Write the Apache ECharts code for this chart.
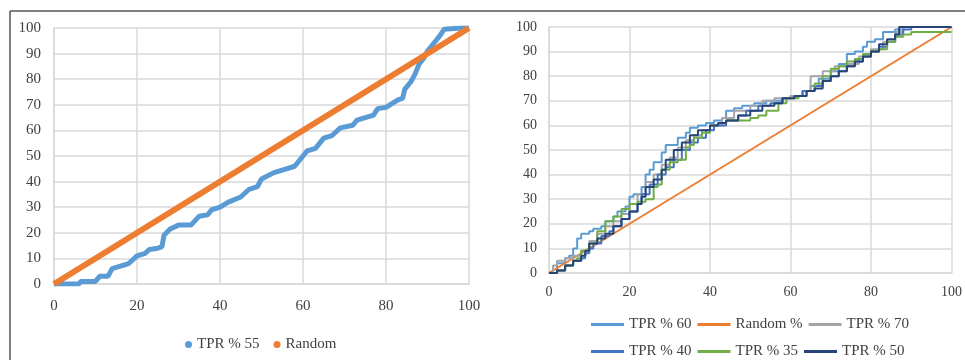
<!DOCTYPE html>
<html>
<head>
<meta charset="utf-8">
<script src="https://cdn.jsdelivr.net/npm/echarts@6/dist/echarts.min.js"></script>
<style>
html, body { margin: 0; padding: 0; background: #fff; }
#chart { width: 965px; height: 360px; }
</style>
</head>
<body>
<div id="chart"></div>
<script>
// axis ticks
var tickMin = 0;
var tickMax = 100;
var tickStep = 20;
var yStep = 10;

// left panel: TPR % 55 vs Random  ([x, y] pairs, percent)
var tpr55 = [
    [0, 0], [6, 0], [6.5, 1], [10, 1], [11, 3], [13, 3], [14, 6], [16, 7], [18, 8],
    [20, 11], [22, 12], [23, 13.5], [25, 14], [26, 14.5], [26.5, 19], [28, 21.5],
    [30, 23], [33, 23], [35, 26.5], [37, 27], [38, 29], [40, 30], [42, 32], [45, 34],
    [47, 37], [49, 38], [50, 41], [53, 43.5], [55, 44.5], [58, 46], [60, 50], [61, 52],
    [63, 53], [65, 57], [67, 58], [69, 61], [72, 62], [73, 64], [75, 65], [77, 66],
    [78, 68.5], [80, 69], [82, 71], [83, 72], [84, 72.5], [84.5, 76], [86, 79],
    [87, 82], [88, 86], [89, 88], [90, 91], [92, 95], [93, 97], [94, 99.5], [98, 100], [100, 100]
];
var random55 = [[0, 0], [100, 100]];

// right panel
var tpr60 = [
    [0, 0], [2, 4], [4, 6], [5, 7], [6, 10], [7, 14], [8, 16], [10, 17], [11, 18], [13, 19],
    [14, 21], [16, 23], [17, 25], [19, 27], [20, 31], [21, 32], [23, 35], [24, 40], [25, 42],
    [26, 45], [28, 49], [29, 52], [31, 52], [32, 55], [34, 57], [35, 59], [37, 60], [39, 61],
    [41, 62], [43, 63], [44, 66], [46, 67], [48, 68], [51, 69], [54, 70], [58, 71], [60, 72],
    [63, 74], [65, 76], [67, 79], [70, 82], [72, 85], [74, 89], [76, 90], [78, 92], [79, 94],
    [81, 95], [83, 98], [86, 99], [88, 100], [100, 100]
];
var randomPct = [[0, 0], [100, 100]];
var tpr70 = [
    [0, 0], [1, 3], [2, 5], [4, 6], [6, 7], [8, 9], [10, 13], [12, 16], [14, 19], [16, 21],
    [18, 24], [20, 28], [22, 32], [24, 37], [26, 40], [28, 44], [30, 47], [32, 51], [34, 54],
    [36, 56], [38, 58], [40, 60], [43, 63], [46, 66], [50, 68], [53, 70], [56, 71], [60, 72],
    [63, 74], [65, 80], [68, 82], [71, 84], [74, 85], [77, 88], [80, 91], [83, 94], [86, 98],
    [88, 100], [100, 100]
];
var tpr40 = [
    [0, 0], [2, 1], [4, 3], [6, 5], [8, 6], [9, 8], [10, 10], [11, 12], [13, 15], [15, 17],
    [16, 19], [18, 22], [20, 25], [22, 28], [23, 32], [25, 36], [27, 40], [29, 43], [31, 46],
    [33, 50], [35, 53], [37, 55], [39, 58], [41, 60], [44, 62], [47, 64], [49, 66], [52, 68],
    [55, 69], [58, 71], [61, 72], [63, 74], [66, 76], [68, 78], [70, 80], [72, 82], [74, 84],
    [76, 86], [78, 88], [80, 90], [82, 92], [84, 94], [86, 97], [88, 99], [90, 100], [100, 100]
];
var tpr35 = [
    [0, 0], [2, 1], [4, 3], [6, 5], [7, 6], [8, 9], [10, 12], [12, 17], [14, 21], [16, 23],
    [18, 26], [20, 28], [22, 29], [24, 30], [26, 35], [27, 36], [28, 42], [30, 45], [32, 46],
    [34, 51], [35, 52], [36, 55], [38, 57], [40, 60], [42, 61], [44, 62], [47, 62], [50, 63],
    [52, 64], [54, 66], [57, 69], [59, 71], [62, 72], [64, 74], [66, 77], [68, 80], [70, 83],
    [72, 84], [74, 86], [76, 87], [78, 89], [80, 90], [82, 91], [84, 94], [86, 96], [88, 97],
    [90, 98], [100, 98]
];
var tpr50 = [
    [0, 0], [2, 1], [4, 3], [6, 5], [8, 7], [9, 9], [10, 12], [12, 14], [14, 16], [16, 19],
    [18, 22], [20, 25], [22, 28], [23, 31], [24, 35], [26, 38], [28, 42], [29, 46], [31, 50],
    [33, 53], [35, 56], [37, 58], [40, 60], [42, 61], [44, 62], [47, 64], [50, 66], [53, 68],
    [56, 69], [58, 71], [61, 72], [64, 74], [66, 75], [68, 78], [70, 80], [72, 82], [74, 84],
    [76, 86], [78, 88], [80, 90], [82, 93], [84, 95], [86, 97], [87, 100], [100, 100]
];

var leftNames = ['TPR % 55', 'Random'];
var rightRow1 = ['TPR % 60', 'Random %', 'TPR % 70'];
var rightRow2 = ['TPR % 40', 'TPR % 35', 'TPR % 50'];

var fontFam = '"Liberation Serif", "Times New Roman", serif';
var txtColor = '#404040';
var gridColor = '#d9d9d9';

function xAxisOf(idx, size, margin) {
    return {
        type: 'value', gridIndex: idx, min: tickMin, max: tickMax, interval: tickStep,
        axisLine: { show: true, lineStyle: { color: gridColor, width: 1.5 } },
        axisTick: { show: false },
        splitLine: { show: true, lineStyle: { color: gridColor, width: 1.5 } },
        axisLabel: { color: txtColor, fontFamily: fontFam, fontSize: size, margin: margin }
    };
}
function yAxisOf(idx, size, margin) {
    return {
        type: 'value', gridIndex: idx, min: tickMin, max: tickMax, interval: yStep,
        axisLine: { show: true, lineStyle: { color: gridColor, width: 1.5 } },
        axisTick: { show: false },
        splitLine: { show: true, lineStyle: { color: gridColor, width: 1.5 } },
        axisLabel: { color: txtColor, fontFamily: fontFam, fontSize: size, margin: margin }
    };
}
function stepLine(name, data, color) {
    return {
        name: name, type: 'line', xAxisIndex: 1, yAxisIndex: 1, data: data,
        step: 'end', symbol: 'none', animation: false,
        lineStyle: { color: color, width: 2 }, itemStyle: { color: color }
    };
}

var lineLegend = {
    left: 586, orient: 'horizontal', icon: 'rect', itemWidth: 33, itemHeight: 3, itemGap: 6,
    textStyle: { color: txtColor, fontFamily: fontFam, fontSize: 15, width: 64 }
};

var option = {
    backgroundColor: '#fff',
    animation: false,
    grid: [
        { left: 54, right: 496, top: 28, bottom: 76 },
        { left: 549, right: 11, top: 27, bottom: 87 }
    ],
    xAxis: [xAxisOf(0, 15, 15), xAxisOf(1, 14, 12)],
    yAxis: [yAxisOf(0, 15, 13), yAxisOf(1, 14, 12)],
    legend: [
        {
            data: leftNames, left: 180, top: 332, icon: 'circle', itemWidth: 7, itemHeight: 7, itemGap: 14,
            textStyle: { color: txtColor, fontFamily: fontFam, fontSize: 15 }
        },
        Object.assign({}, lineLegend, { data: rightRow1, top: 312 }),
        Object.assign({}, lineLegend, { data: rightRow2, top: 339 })
    ],
    series: [
        {
            name: leftNames[0], type: 'line', xAxisIndex: 0, yAxisIndex: 0, data: tpr55,
            symbol: 'none', lineStyle: { color: '#5B9BD5', width: 5 }, itemStyle: { color: '#5B9BD5' }
        },
        {
            name: leftNames[1], type: 'line', xAxisIndex: 0, yAxisIndex: 0, data: random55,
            symbol: 'none', lineStyle: { color: '#ED7D31', width: 6 }, itemStyle: { color: '#ED7D31' }
        },
        stepLine('TPR % 60', tpr60, '#5B9BD5'),
        {
            name: 'Random %', type: 'line', xAxisIndex: 1, yAxisIndex: 1, data: randomPct,
            symbol: 'none', lineStyle: { color: '#ED7D31', width: 2 }, itemStyle: { color: '#ED7D31' }
        },
        stepLine('TPR % 70', tpr70, '#A5A5A5'),
        stepLine('TPR % 40', tpr40, '#4472C4'),
        stepLine('TPR % 35', tpr35, '#70AD47'),
        stepLine('TPR % 50', tpr50, '#264478')
    ],
    graphic: [
        { type: 'line', shape: { x1: 10, y1: 11, x2: 965, y2: 11 }, style: { stroke: '#555', lineWidth: 1.5 } },
        { type: 'line', shape: { x1: 10, y1: 11, x2: 10, y2: 360 }, style: { stroke: '#555', lineWidth: 1.5 } }
    ]
};

var myChart = echarts.init(document.getElementById('chart'));
myChart.setOption(option);
</script>
</body>
</html>
